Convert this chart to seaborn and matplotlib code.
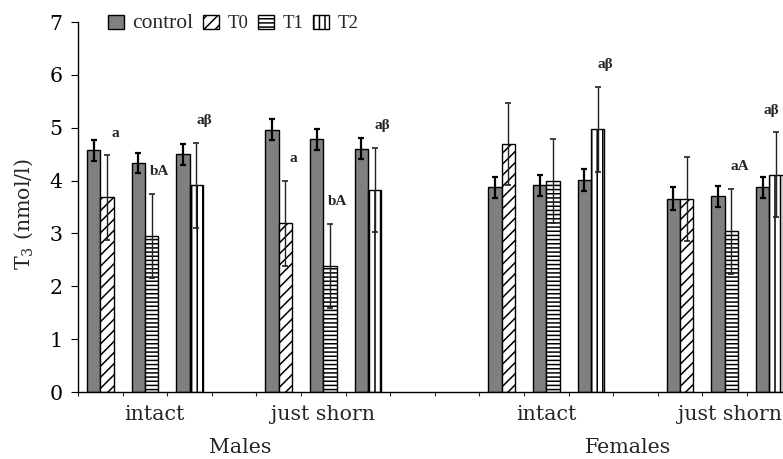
import numpy as np
import pandas as pd
import seaborn as sns
import matplotlib.pyplot as plt
from matplotlib.patches import Patch

# values (T3, nmol/l)
groups = ["Males intact", "Males just shorn", "Females intact", "Females just shorn"]
treatments = ["T0", "T1", "T2"]
control_mean = [4.57, 4.34, 4.50, 4.96, 4.78, 4.60, 3.87, 3.91, 4.01, 3.66, 3.70, 3.87]
control_se = [0.20, 0.19, 0.20, 0.20, 0.20, 0.20, 0.20, 0.20, 0.21, 0.21, 0.20, 0.20]
treated_mean = [3.68, 2.95, 3.91, 3.19, 2.38, 3.82, 4.69, 3.99, 4.97, 3.65, 3.04, 4.11]
treated_se = [0.80, 0.80, 0.80, 0.80, 0.80, 0.80, 0.78, 0.80, 0.80, 0.80, 0.80, 0.80]
sig_labels = ["a", "bA", "aβ", "a", "bA", "aβ", "", "", "aβ", "", "aA", "aβ"]

cond_labels = ["intact", "just shorn", "intact", "just shorn"]
sex_labels = ["Males", "Females"]

# slot layout along the x axis: 3 pairs per group, empty slots between
gap_after = [1, 2, 1, 0]
slot_order = []
pair_slot = []
for gi, g in enumerate(groups):
    for t in treatments:
        pair_slot.append(len(slot_order))
        slot_order.append(f"{g} {t}")
    for k in range(gap_after[gi]):
        slot_order.append(f"gap{gi}{k}")
pair_slot = np.array(pair_slot)

rows = []
for i, g in enumerate(groups):
    for j, t in enumerate(treatments):
        n = i * 3 + j
        rows.append({"slot": f"{g} {t}", "role": "control", "value": control_mean[n]})
        rows.append({"slot": f"{g} {t}", "role": "treated", "value": treated_mean[n]})
df = pd.DataFrame(rows)

sns.set_style("ticks")
plt.rcParams["font.family"] = ["DejaVu Serif"]
plt.rcParams["mathtext.fontset"] = "dejavuserif"
plt.rcParams["hatch.linewidth"] = 1.1

fig = plt.figure(figsize=(7.83, 4.59), dpi=100)
ax = fig.add_axes([78 / 783, 67 / 459, 713.6 / 783, 370 / 459])

sns.barplot(data=df, x="slot", y="value", hue="role", order=slot_order,
            hue_order=["control", "treated"],
            palette={"control": "#808080", "treated": "white"},
            width=0.6, errorbar=None, edgecolor="black", linewidth=1,
            saturation=1, legend=False, ax=ax)

hatch_of = {"T0": "///", "T1": "----", "T2": "|||"}
for bar in ax.containers[1]:
    pos = int(round(bar.get_x() + bar.get_width() / 2))
    t = slot_order[pos].split()[-1]
    bar.set_hatch(hatch_of[t])

ax.errorbar(pair_slot - 0.15, control_mean, yerr=control_se, fmt="none",
            ecolor="black", elinewidth=1.6, capsize=2.5, capthick=1.6, zorder=4)
ax.errorbar(pair_slot + 0.15, treated_mean, yerr=treated_se, fmt="none",
            ecolor="#222222", elinewidth=1.0, capsize=2.0, capthick=1.2, zorder=4)

# significance letters above treated error bars
for n, lab in enumerate(sig_labels):
    if not lab:
        continue
    x = min(pair_slot[n] + 0.33, 15.05)
    ax.text(x, treated_mean[n] + treated_se[n] + 0.42, lab, ha="center", va="center",
            fontsize=11, fontweight="bold", family="Liberation Serif", zorder=5)

ax.set_ylim(0, 7)
ax.set_yticks(range(0, 8))
ax.set_xlim(-0.5, 15.5)
ax.set_xticks(np.arange(-0.5, 16, 1))
ax.set_xticklabels([])
ax.set_xlabel("")
ax.tick_params(axis="y", length=5, width=0.8, pad=6, labelsize=14.8, colors="black")
ax.tick_params(axis="x", length=3, width=0.8, direction="out")
for s in ["top", "right"]:
    ax.spines[s].set_visible(False)
for s in ["left", "bottom"]:
    ax.spines[s].set_color("black")
    ax.spines[s].set_linewidth(1.0)

ax.set_ylabel(r"T$_3$ (nmol/l)", fontsize=14.8)
ax.yaxis.set_label_coords(-0.06, 0.48)

# category labels under the axis
trans = ax.get_xaxis_transform()
cond_x = [1.21, 5.0, 10.0, 14.12]
for x, lab in zip(cond_x, cond_labels):
    ax.text(x, -0.062, lab, transform=trans, ha="center", va="center", fontsize=14.8)
for x, lab in zip([3.13, 11.83], sex_labels):
    ax.text(x, -0.151, lab, transform=trans, ha="center", va="center", fontsize=14.8)

handles = [Patch(facecolor="#808080", edgecolor="black", linewidth=1),
           Patch(facecolor="white", edgecolor="black", hatch="///", linewidth=1),
           Patch(facecolor="white", edgecolor="black", hatch="----", linewidth=1),
           Patch(facecolor="white", edgecolor="black", hatch="|||", linewidth=1)]
leg = fig.legend(handles, ["control", "T0", "T1", "T2"], loc="center left",
                 bbox_to_anchor=(108 / 783, 435 / 459), ncol=4, frameon=False,
                 borderpad=0, borderaxespad=0, handlelength=0.8, handleheight=0.7,
                 handletextpad=0.45, columnspacing=0.5,
                 prop={"family": "Liberation Serif", "size": 14})
for i, txt in enumerate(leg.get_texts()):
    txt.set_fontsize(15.5 if i == 0 else 13.5)

fig.savefig("out.png", dpi=100)
